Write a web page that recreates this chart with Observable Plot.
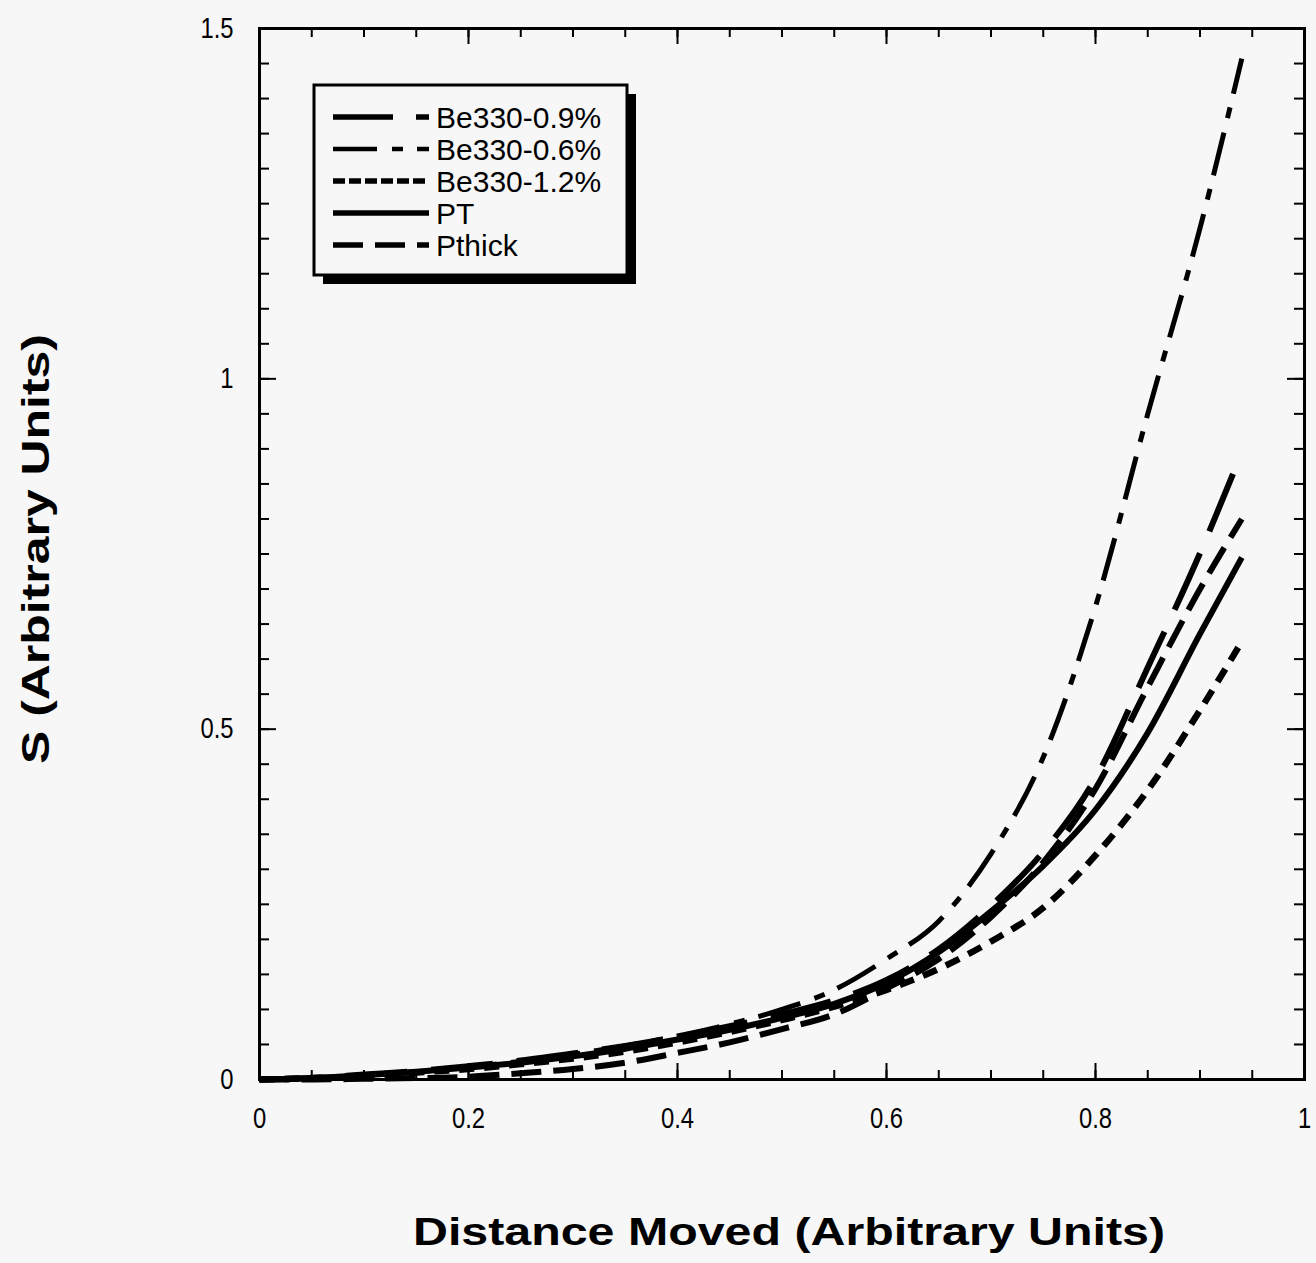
<!DOCTYPE html>
<html><head><meta charset="utf-8">
<script src="https://cdn.jsdelivr.net/npm/d3@7"></script>
<script src="https://cdn.jsdelivr.net/npm/@observablehq/plot@0.6"></script>
<style>
body{margin:0;background:#f7f7f7;}
#wrap{position:relative;width:1316px;height:1263px;}
svg{background:#f7f7f7;}
</style></head><body><div id="wrap"></div>
<script>
// ---- data ----
const xs     = [0, 0.05, 0.1, 0.15, 0.2, 0.25, 0.3, 0.35, 0.4, 0.45, 0.5, 0.55, 0.6, 0.65, 0.7, 0.75, 0.8, 0.85, 0.9, 0.94];
const be09   = [0, 0.002, 0.007, 0.012, 0.019, 0.027, 0.037, 0.048, 0.061, 0.076, 0.093, 0.113, 0.142, 0.186, 0.248, 0.325, 0.43, 0.588, 0.751, 0.895];
const be06   = [0, 0.002, 0.006, 0.011, 0.018, 0.026, 0.036, 0.048, 0.062, 0.079, 0.100, 0.128, 0.172, 0.226, 0.322, 0.46, 0.675, 0.95, 1.215, 1.457];
const be12   = [0, 0.002, 0.005, 0.010, 0.015, 0.022, 0.030, 0.040, 0.053, 0.068, 0.085, 0.104, 0.128, 0.158, 0.197, 0.245, 0.32, 0.413, 0.527, 0.625];
const pt     = [0, 0.002, 0.006, 0.011, 0.017, 0.024, 0.033, 0.044, 0.057, 0.071, 0.088, 0.108, 0.138, 0.182, 0.24, 0.305, 0.385, 0.495, 0.636, 0.745];
const pthick = [0, 0.000, 0.001, 0.002, 0.004, 0.009, 0.015, 0.024, 0.038, 0.053, 0.072, 0.093, 0.13, 0.172, 0.232, 0.31, 0.415, 0.56, 0.70, 0.80];
const seriesNames = ["Be330-0.9%", "Be330-0.6%", "Be330-1.2%", "PT", "Pthick"];
const xTicks = [0, 0.2, 0.4, 0.6, 0.8, 1];
const yTicks = [0, 0.5, 1, 1.5];
const xTickLabels = ["0", "0.2", "0.4", "0.6", "0.8", "1"];
const yTickLabels = ["0", "0.5", "1", "1.5"];
const xTitle = "Distance Moved (Arbitrary Units)";
const yTitle = "S (Arbitrary Units)";

// ---- styles ----
const styles = [
  {dash: "62,24", w: 6, legendDash: "60,23"},
  {dash: "44,15,11,14", w: 5, legendDash: "44,15,11,14"},
  {dash: "15,10", w: 6.5, legendDash: "12,4"},
  {dash: null, w: 6, legendDash: null},
  {dash: "30,12", w: 6, legendDash: "30,12"}
];
const values = [be09, be06, be12, pt, pthick];
const series = seriesNames.map((name, i) => xs.map((x, j) => ({x, y: values[i][j], s: name})));

const W = 1316, H = 1263, mL = 259, mR = 12, mT = 28, mB = 184;
const fw = W - mL - mR, fh = H - mT - mB;
const minorX = d3.range(0, 1.0001, 0.05);
const minorY = d3.range(0, 1.5001, 0.05);
const tickFont = "'Liberation Sans', Arial, sans-serif";

const lineMarks = series.map((d, i) => Plot.line(d, {
  x: "x", y: "y", stroke: "black", strokeWidth: styles[i].w,
  strokeDasharray: styles[i].dash ?? undefined, strokeLinecap: "butt",
  curve: "monotone-x"
}));

const chart = Plot.plot({
  width: W, height: H,
  marginLeft: mL, marginRight: mR, marginTop: mT, marginBottom: mB,
  style: {background: "#f7f7f7", fontFamily: tickFont, fontSize: "29px", color: "black"},
  x: {domain: [0, 1]},
  y: {domain: [0, 1.5]},
  marks: [
    ...lineMarks,
    Plot.tickX(minorX, {x: d => d, insetTop: fh - 9, stroke: "black", strokeWidth: 2}),
    Plot.tickX(minorX, {x: d => d, insetBottom: fh - 9, stroke: "black", strokeWidth: 2}),
    Plot.tickY(minorY, {y: d => d, insetRight: fw - 10, stroke: "black", strokeWidth: 2}),
    Plot.tickY(minorY, {y: d => d, insetLeft: fw - 10, stroke: "black", strokeWidth: 2}),
    Plot.tickX(xTicks, {x: d => d, insetTop: fh - 16, stroke: "black", strokeWidth: 2}),
    Plot.tickX(xTicks, {x: d => d, insetBottom: fh - 16, stroke: "black", strokeWidth: 2}),
    Plot.tickY(yTicks, {y: d => d, insetRight: fw - 17, stroke: "black", strokeWidth: 2}),
    Plot.tickY(yTicks, {y: d => d, insetLeft: fw - 17, stroke: "black", strokeWidth: 2}),
    Plot.axisX({ticks: xTicks, tickSize: 0, tickPadding: 28, label: null, tickFormat: (d, i) => xTickLabels[i], fontSize: 29}),
    Plot.axisY({ticks: yTicks, tickSize: 0, tickPadding: 26, label: null, tickFormat: (d, i) => yTickLabels[i], fontSize: 29}),
    Plot.frame({stroke: "black", strokeWidth: 3})
  ]
});
document.getElementById("wrap").appendChild(chart);

const svg = d3.select(chart);
// condense tick labels (reference uses a narrow face)
svg.selectAll("g[aria-label='x-axis tick label'] text, g[aria-label='y-axis tick label'] text").each(function() {
  const len = this.getComputedTextLength();
  if (len > 0) d3.select(this).attr("textLength", len * 0.82).attr("lengthAdjust", "spacingAndGlyphs");
});

// ---- axis titles and legend ----
const titleFont = "'Liberation Sans', Arial, sans-serif";
svg.append("text").text(xTitle)
  .attr("x", 789).attr("y", 1245).attr("text-anchor", "middle")
  .attr("font-family", titleFont).attr("font-weight", "bold").attr("font-size", 39)
  .attr("textLength", 752).attr("lengthAdjust", "spacingAndGlyphs").attr("fill", "black");
svg.append("text").text(yTitle)
  .attr("transform", "translate(49,549) rotate(-90)").attr("text-anchor", "middle")
  .attr("font-family", titleFont).attr("font-weight", "bold").attr("font-size", 39)
  .attr("textLength", 430).attr("lengthAdjust", "spacingAndGlyphs").attr("fill", "black");

const lg = svg.append("g");
lg.append("rect").attr("x", 323).attr("y", 94).attr("width", 313).attr("height", 190).attr("fill", "black");
lg.append("rect").attr("x", 314).attr("y", 85).attr("width", 313).attr("height", 190)
  .attr("fill", "#f7f7f7").attr("stroke", "black").attr("stroke-width", 3);
seriesNames.forEach((name, i) => {
  const cy = 117 + i * 32;
  const ln = lg.append("line").attr("x1", 333).attr("x2", 429).attr("y1", cy).attr("y2", cy)
    .attr("stroke", "black").attr("stroke-width", i === 1 ? 4.5 : 5.5);
  if (styles[i].legendDash) ln.attr("stroke-dasharray", styles[i].legendDash);
  lg.append("text").text(name).attr("x", 436).attr("y", cy + 11).attr("text-anchor", "start")
    .attr("font-family", titleFont).attr("font-size", 30).attr("fill", "black");
});
</script></body></html>
